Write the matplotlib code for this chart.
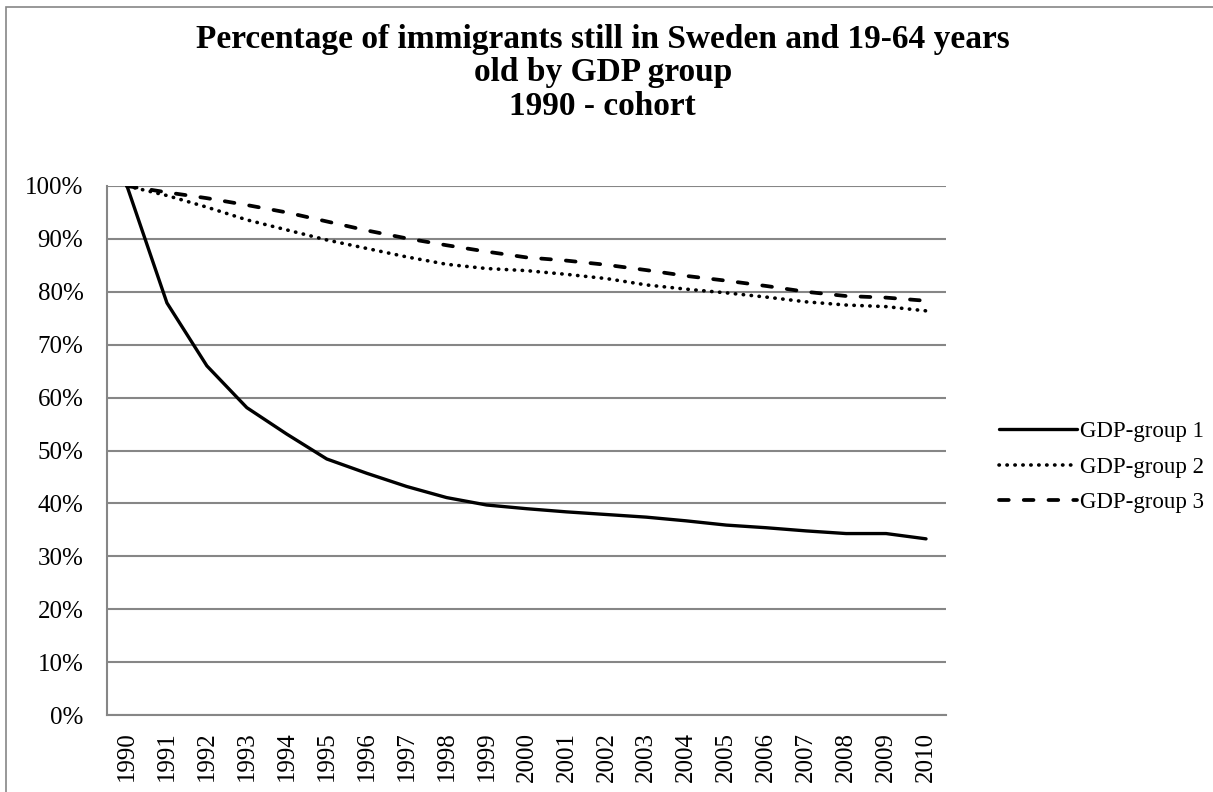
import numpy as np
import matplotlib
matplotlib.use('Agg')
import matplotlib.pyplot as plt
from matplotlib.patches import Rectangle

plt.rcParams['font.family'] = ['Liberation Serif', 'DejaVu Serif']

# data (percent)
years = [str(y) for y in range(1990, 2011)]
group1 = [100, 77.9, 66.0, 58.1, 53.1, 48.4, 45.7, 43.2, 41.1, 39.7, 39.0,
          38.4, 37.9, 37.4, 36.7, 35.9, 35.4, 34.8, 34.3, 34.3, 33.3]
group2 = [100, 98.2, 96.0, 93.6, 91.7, 89.8, 88.2, 86.6, 85.2, 84.4, 84.0,
          83.3, 82.5, 81.3, 80.5, 79.8, 79.0, 78.1, 77.5, 77.2, 76.4]
group3 = [100, 98.8, 97.7, 96.4, 95.0, 93.3, 91.6, 90.1, 88.8, 87.6, 86.5,
          85.9, 85.1, 84.1, 83.0, 82.1, 81.1, 80.0, 79.2, 78.9, 78.3]
labels = ['GDP-group 1', 'GDP-group 2', 'GDP-group 3']
yticks = np.arange(0, 101, 10)

W, H = 1213, 792
fig = plt.figure(figsize=(W / 100, H / 100), dpi=100)

# outer chart border
fig.patches.append(Rectangle((6 / W, -0.01), 1.05, 1 - 7 / H + 0.01,
                             transform=fig.transFigure, fill=False,
                             edgecolor='#868686', linewidth=1.2))

ax = fig.add_axes([107 / W, 1 - 715 / H, (946 - 107) / W, (715 - 186) / H])

x = np.arange(len(years))
l1, = ax.plot(x, group1, color='black', lw=2.4, ls='-', solid_capstyle='round')
l2, = ax.plot(x, group2, color='black', lw=2.6, ls=(0, (0.1, 2.1)),
              dash_capstyle='round')
l3, = ax.plot(x, group3, color='black', lw=2.7, ls=(0, (2.6, 4.0)),
              dash_capstyle='round')

ax.set_xlim(-0.5, len(years) - 0.5)
ax.set_ylim(0, 100)
ax.set_yticks(yticks)
ax.set_yticklabels(['%d%%' % v for v in yticks], fontsize=18)
ax.set_xticks(x)
ax.set_xticklabels(years, rotation=90, fontsize=18)
ax.tick_params(length=0)
ax.tick_params(axis='y', pad=17)
ax.tick_params(axis='x', pad=12)

ax.grid(axis='y', color='#868686', lw=1.5)
ax.set_axisbelow(True)
for s in ['top', 'right']:
    ax.spines[s].set_visible(False)
for s in ['left', 'bottom']:
    ax.spines[s].set_color('#868686')
    ax.spines[s].set_linewidth(1.5)

fig.text(0.497, 1 - 24 / H,
         'Percentage of immigrants still in Sweden and 19-64 years\n'
         'old by GDP group\n1990 - cohort',
         ha='center', va='top', fontsize=24, fontweight='bold',
         linespacing=1.1)

fig.legend([l1, l2, l3], labels, loc='center left',
           bbox_to_anchor=(978 / W, 1 - 467 / H), frameon=False,
           fontsize=16.5, handlelength=3.4, handletextpad=0.15,
           labelspacing=0.62)

fig.savefig('out.png', dpi=100)
